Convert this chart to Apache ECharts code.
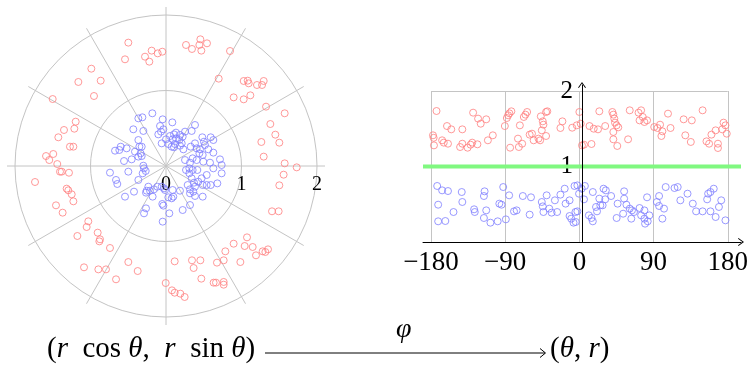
<!DOCTYPE html>
<html><head><meta charset="utf-8">
<script src="https://cdn.jsdelivr.net/npm/echarts@6/dist/echarts.min.js"></script>
<style>html,body{margin:0;padding:0;background:#fff}#c{width:751px;height:369px}</style>
</head><body><div id="c"></div>
<script>
// ---- Left (cartesian view of polar points): [r cos θ, r sin θ]
const leftRedXY = [
[-0.499,1.634],[-0.543,1.413],[-0.278,1.448],[-0.221,1.382],[-0.19,1.528],[-0.11,1.492],[-0.049,1.514],[-0.989,1.289],[-1.161,1.113],[-0.865,1.13],[-0.954,0.927],[-1.501,0.887],[-1.196,0.587],[-1.214,0.494],[-1.351,0.477],[-1.426,0.38],[-1.272,0.256],[-1.227,0.256],[-1.589,0.132],[-1.493,0.159],[-1.546,0.079],[-1.44,0.026],
[0.265,1.603],[0.344,1.55],[0.442,1.603],[0.455,1.678],[0.468,1.528],[0.543,1.625],[0.848,1.523],[0.698,1.157],[0.896,0.909],[1.029,0.883],[1.117,0.936],[1.029,1.126],[1.082,1.13],[1.095,1.095],[1.205,1.073],[1.272,1.073],[1.294,1.126],[1.325,0.786],[1.572,0.698],[1.382,0.556],[1.448,0.415],[1.501,0.309],[1.263,0.318],[1.294,0.124],[1.572,0.035],[1.731,-0.018],
[-1.404,-0.075],[-1.381,-0.075],[-1.285,-0.089],[-1.735,-0.212],[-1.316,-0.3],[-1.294,-0.322],[-1.249,-0.375],[-1.227,-0.468],[-1.457,-0.521],[-1.369,-0.618],[-1.029,-0.733],[-1.051,-0.808],[-1.174,-0.927],[-0.905,-0.883],[-0.874,-0.971],[-0.883,-0.998],[-0.742,-1.086],[-0.499,-1.272],[-0.375,-1.391],[-1.086,-1.342],[-0.896,-1.369],[-0.795,-1.369],[-0.662,-1.501],[-0.004,-1.55],
[1.558,-0.115],[1.501,-0.256],[1.404,-0.6],[1.492,-0.6],[1.073,-0.945],[1.042,-1.06],[1.148,-1.073],[1.192,-1.183],[1.28,-1.13],[1.316,-1.139],[1.351,-1.104],[0.896,-1.029],[0.786,-1.13],[0.764,-1.249],[0.985,-1.272],[0.675,-1.28],[0.455,-1.249],[0.344,-1.249],[0.366,-1.351],[0.115,-1.263],[0.468,-1.492],[0.631,-1.545],[0.662,-1.545],[0.764,-1.536],[0.764,-1.572],[0.079,-1.647],[0.115,-1.678],[0.19,-1.691],[0.247,-1.735]
];
const leftBlueXY = [
[-0.181,0.698],[-0.366,0.631],[-0.313,0.645],[0.084,0.578],[-0.044,0.618],[-0.079,0.53],[0.384,0.543],[0.34,0.464],[-0.433,0.486],[-0.3,0.464],[-0.102,0.419],[-0.035,0.486],[0.106,0.419],[0.053,0.397],[0,0.353],[0.132,0.442],[0.185,0.411],[0.221,0.389],[0.088,0.353],[0.252,0.455],[0.481,0.38],[0.592,0.38],[0.627,0.344],[0.503,0.322],[-0.6,0.256],[-0.675,0.203],[-0.618,0.212],[-0.521,0.234],[-0.366,0.344],[-0.353,0.256],[-0.322,0.256],[-0.057,0.3],[0.031,0.291],[0.075,0.256],[0.119,0.291],[0.185,0.269],[0.23,0.221],[0.327,0.256],[0.406,0.234],[0.442,0.168],[0.353,0.102],[-0.411,0.19],[-0.366,0.124],[-0.455,0.088],[-0.556,0.066],[-0.3,0.004],[-0.291,-0.031],[-0.269,-0.066],[-0.309,-0.097],[0.252,0.079],[0.318,0.044],[0.309,-0.031],[0.353,-0.053],[0.265,-0.053],[0.309,-0.097],[0.583,0.044],[0.715,0.088],[0.737,0.013],[0.627,-0.031],[0.737,-0.097],[0.539,-0.119],[-0.742,-0.088],[-0.662,-0.185],[-0.645,-0.238],[-0.499,-0.075],[-0.366,-0.185],[0.34,-0.163],[0.371,-0.221],[0.428,-0.208],[0.472,-0.163],[0.486,-0.252],[0.539,-0.252],[0.592,-0.252],[0.68,-0.23],[-0.256,-0.327],[-0.212,-0.327],[-0.159,-0.309],[-0.115,-0.274],[-0.057,-0.274],[-0.026,-0.296],[0.088,-0.318],[0.185,-0.327],[0.287,-0.252],[0.318,-0.309],[0.362,-0.34],[0.318,-0.362],[0.486,-0.406],[-0.543,-0.406],[-0.424,-0.34],[-0.265,-0.353],[-0.177,-0.406],[0.075,-0.428],[0.097,-0.406],[0.221,-0.583],[0.318,-0.517],[-0.049,-0.503],[-0.035,-0.525],[-0.265,-0.561],[-0.291,-0.627],[0.044,-0.627],[-0.044,-0.737],
[-0.336,0.168],[-0.322,0.132],[0.384,0.3],[0.516,0.278],[0.561,0.221],[0.45,0.221],[0.486,0.146],[0.627,0.177],[0.494,0.057],[0.406,0.079],[0.415,-0.053],[0.384,-0.274],[0.384,-0.397],[0.132,0.366],[0.177,0.344],[0.208,0.3],[0.106,0.248],[-0.234,-0.274],[-0.013,-0.318],[0.031,-0.415],[-0.066,0.455]
];
// ---- Right: [θ (deg), r]
const rightRed = [
[-173.3,1.735],[-177.6,1.413],[-176.8,1.38],[-176.4,1.28],[-166.5,1.347],[-164.5,1.316],[-159.4,1.302],[-160.6,1.536],[-155.4,1.492],[-142,1.492],[-144.7,1.258],[-142,1.302],[-135.6,1.249],[-132,1.289],[-130,1.316],[-123.7,1.294],[-128.9,1.713],[-122.9,1.634],[-119.7,1.567],[-113,1.625],[-111,1.347],[-105,1.413],[-90.4,1.536],[-88,1.642],[-86.4,1.678],[-84.9,1.704],[-82.5,1.731],[-84,1.249],[-74.5,1.369],[-73.4,1.258],[-69.4,1.302],[-72.2,1.545],[-67.4,1.656],[-65.4,1.687],[-63.4,1.722],[-60.3,1.422],[-57.5,1.435],[-55.5,1.347],[-49.6,1.369],[-47.6,1.347],[-45.6,1.479],[-44.4,1.598],[-46.8,1.664],[-40.4,1.722],[-38.9,1.731],[-43.6,1.554],[-40.4,1.404],[-20.6,1.598],[-23,1.51],[-8.7,1.514],[-3.2,1.545],[0,1.722],[3.2,1.28],[1.6,1.567],[12.3,1.536],[17.4,1.501],[22.6,1.492],[24.2,1.731],[31.3,1.536],[40,1.722],[41.2,1.687],[42.4,1.634],[43.2,1.581],[45.2,1.545],[47.2,1.519],[41.2,1.457],[41.2,1.36],[46,1.272],[59.1,1.36],[61.1,1.744],[71.8,1.713],[74.9,1.744],[73,1.611],[76.9,1.656],[78.9,1.589],[82.1,1.611],[90.8,1.523],[94.8,1.51],[97.9,1.554],[100.7,1.466],[99.5,1.404],[107.5,1.7],[110.6,1.51],[126.5,1.625],[128.5,1.413],[136.4,1.611],[135.2,1.325],[149.5,1.744],[154.2,1.333],[157.4,1.302],[160.2,1.422],[165.3,1.479],[168.1,1.302],[168.1,1.245],[173.3,1.492],[174.9,1.581],[177.2,1.545],[178.8,1.435],[5.6,1.289],[14.7,1.298]
];
const rightBlue = [
[-172.5,0.742],[-166.5,0.684],[-159.4,0.675],[-142.7,0.662],[-142,0.53],[-171.3,0.494],[-171.3,0.274],[-162.6,0.278],[-152.7,0.397],[-127.7,0.433],[-126.9,0.397],[-115,0.671],[-115.8,0.609],[-113,0.419],[-115.8,0.318],[-107.9,0.256],[-99.1,0.274],[-97.1,0.508],[-94.4,0.494],[-92.4,0.728],[-85.2,0.618],[-89.2,0.3],[-79.3,0.406],[-76.1,0.419],[-68.6,0.609],[-58.7,0.592],[-60.3,0.362],[-45.6,0.53],[-44.4,0.472],[-43.6,0.397],[-39.7,0.618],[-36.5,0.442],[-33.7,0.389],[-29.7,0.552],[-27,0.397],[-23,0.627],[-17.8,0.706],[-16.7,0.508],[-11.9,0.552],[-11.9,0.344],[-9.9,0.309],[-7.1,0.256],[-4.8,0.397],[-5.9,0.742],[-2.4,0.75],[6.7,0.742],[2.8,0.706],[-0.4,0.64],[5.6,0.565],[-2.4,0.406],[-4.4,0.265],[11.5,0.353],[14.7,0.318],[16.3,0.274],[16.3,0.662],[20.2,0.464],[21.4,0.406],[24.2,0.574],[25.4,0.486],[28.2,0.486],[29.3,0.706],[32.1,0.684],[31.3,0.565],[38.5,0.609],[46.4,0.508],[45.2,0.318],[54.3,0.671],[54.3,0.574],[53.1,0.375],[57.1,0.494],[61.1,0.442],[63.8,0.419],[63,0.309],[66.2,0.397],[73,0.45],[74.9,0.353],[78.9,0.419],[78.9,0.309],[79.7,0.243],[82.1,0.592],[82.9,0.274],[84.9,0.353],[94,0.53],[96.7,0.609],[96.7,0.477],[102.7,0.442],[100.7,0.309],[104.7,0.728],[115.4,0.715],[119.3,0.728],[122.5,0.552],[131.2,0.64],[137.6,0.508],[141.6,0.406],[149.5,0.406],[155,0.565],[156.2,0.64],[159,0.662],[163,0.706],[159,0.406],[165.3,0.331],[169.3,0.464],[172.1,0.552],[177.2,0.287]
];
const thetaTicks = [-180, -90, 0, 90, 180];
const rTicksRight = [1, 2];
const rTicksLeft = [0, 1, 2];
const greenLevel = [[-189, 1], [189, 1]];
const mapCaption = 'φ';

const RED = '#ff8080', BLUE = '#8080ff', GRAY = '#c4c4c4', GREEN = '#80f880';
const SERIF = '"Liberation Serif", "DejaVu Serif", serif';
const CHEVRON = 'path://M5,0 L10,7 L9,7.6 L5,2 L1,7.6 L0,7 Z';

function toPolar(p) {
  const r = Math.hypot(p[0], p[1]);
  let a = Math.atan2(p[1], p[0]) * 180 / Math.PI;
  if (a < 0) a += 360;
  return [r, a];
}
function fmtSigned(v) { return v < 0 ? '\u2212' + (-v) : String(v); }
const hollow = c => ({ color: 'rgba(0,0,0,0)', borderColor: c, borderWidth: 1 });
const italic = { fontStyle: 'italic', fontFamily: SERIF, fontSize: 29 };

const chart = echarts.init(document.getElementById('c'), null, { renderer: 'canvas' });
chart.setOption({
  animation: false,
  backgroundColor: '#fff',
  polar: [
    { center: [166, 166], radius: 159 },
    { center: [166, 166], radius: 151 }
  ],
  angleAxis: [
    { polarIndex: 0, type: 'value', min: 0, max: 360, interval: 30, startAngle: 0, clockwise: false,
      axisLine: { show: false }, axisTick: { show: false }, axisLabel: { show: false },
      splitLine: { show: true, lineStyle: { color: GRAY, width: 1 } } },
    { polarIndex: 1, type: 'value', min: 0, max: 360, startAngle: 0, clockwise: false,
      axisLine: { show: false }, axisTick: { show: false }, axisLabel: { show: false }, splitLine: { show: false } }
  ],
  radiusAxis: [
    { polarIndex: 0, type: 'value', min: 0, max: 1, axisLine: { show: false }, axisTick: { show: false },
      axisLabel: { show: false }, splitLine: { show: false } },
    { polarIndex: 1, type: 'value', min: rTicksLeft[0], max: rTicksLeft[rTicksLeft.length - 1], interval: 1,
      axisLine: { show: false }, axisTick: { show: false },
      axisLabel: { show: true, margin: -29, fontFamily: SERIF, fontSize: 20, color: '#000' },
      splitLine: { show: true, lineStyle: { color: GRAY, width: 1 } } }
  ],
  grid: [
    { left: 431, top: 91, width: 302, height: 151 },
    { left: 423, top: 85, width: 318, height: 157 }
  ],
  xAxis: [
    { gridIndex: 0, type: 'value', min: thetaTicks[0], max: thetaTicks[thetaTicks.length - 1], interval: 90,
      axisLine: { show: false }, axisTick: { show: false },
      axisLabel: { fontFamily: SERIF, fontSize: 27, color: '#000', margin: 7, formatter: fmtSigned },
      splitLine: { show: true, lineStyle: { color: GRAY, width: 1 } } },
    { gridIndex: 1, type: 'value', min: -189, max: 189, z: 6,
      axisLine: { show: true, onZero: true, lineStyle: { color: '#000', width: 1 }, symbol: ['none', CHEVRON], symbolSize: [8, 6] },
      axisTick: { show: false }, axisLabel: { show: false }, splitLine: { show: false } }
  ],
  yAxis: [
    { gridIndex: 0, type: 'value', min: 0, max: rTicksRight[rTicksRight.length - 1], interval: 1,
      offset: -151,
      axisLine: { show: false, onZero: false }, axisTick: { show: false },
      axisLabel: { showMinLabel: false, fontFamily: SERIF, fontSize: 25, color: '#000', margin: 9, padding: [7, 0, 0, 0] },
      splitLine: { show: true, lineStyle: { color: GRAY, width: 1 } } },
    { gridIndex: 1, type: 'value', min: 0, max: 157 / 75.5, z: 6,
      axisLine: { show: true, onZero: true, lineStyle: { color: '#000', width: 1 }, symbol: ['none', CHEVRON], symbolSize: [8, 6] },
      axisTick: { show: false }, axisLabel: { show: false }, splitLine: { show: false } }
  ],
  series: [
    { type: 'scatter', coordinateSystem: 'polar', polarIndex: 1, symbol: 'circle', symbolSize: 7,
      itemStyle: hollow(RED), data: leftRedXY.map(toPolar), silent: true },
    { type: 'scatter', coordinateSystem: 'polar', polarIndex: 1, symbol: 'circle', symbolSize: 7,
      itemStyle: hollow(BLUE), data: leftBlueXY.map(toPolar), silent: true },
    { type: 'line', xAxisIndex: 1, yAxisIndex: 1, data: greenLevel, symbol: 'none', z: 3,
      lineStyle: { color: GREEN, width: 4 }, silent: true },
    { type: 'scatter', xAxisIndex: 0, yAxisIndex: 0, symbol: 'circle', symbolSize: 7,
      itemStyle: hollow(RED), data: rightRed, silent: true },
    { type: 'scatter', xAxisIndex: 0, yAxisIndex: 0, symbol: 'circle', symbolSize: 7,
      itemStyle: hollow(BLUE), data: rightBlue, silent: true }
  ],
  graphic: [
    { type: 'text', left: 47, top: 335, style: { text: '({i|r}  cos {i|θ},  {i|r}  sin {i|θ})',
        rich: { i: italic }, font: '29px ' + SERIF, fill: '#000' } },
    { type: 'text', left: 396, top: 316, style: { text: mapCaption, font: 'italic 28px ' + SERIF, fill: '#000' } },
    { type: 'line', shape: { x1: 265, y1: 353, x2: 545, y2: 353 }, style: { stroke: '#000', lineWidth: 1 } },
    { type: 'polyline', shape: { points: [[540, 348.5], [545.5, 353], [540, 357.5]] }, style: { stroke: '#000', lineWidth: 1, fill: null } },
    { type: 'text', left: 550, top: 335, style: { text: '({i|θ}, {i|r})',
        rich: { i: italic }, font: '29px ' + SERIF, fill: '#000' } }
  ]
});
</script></body></html>
